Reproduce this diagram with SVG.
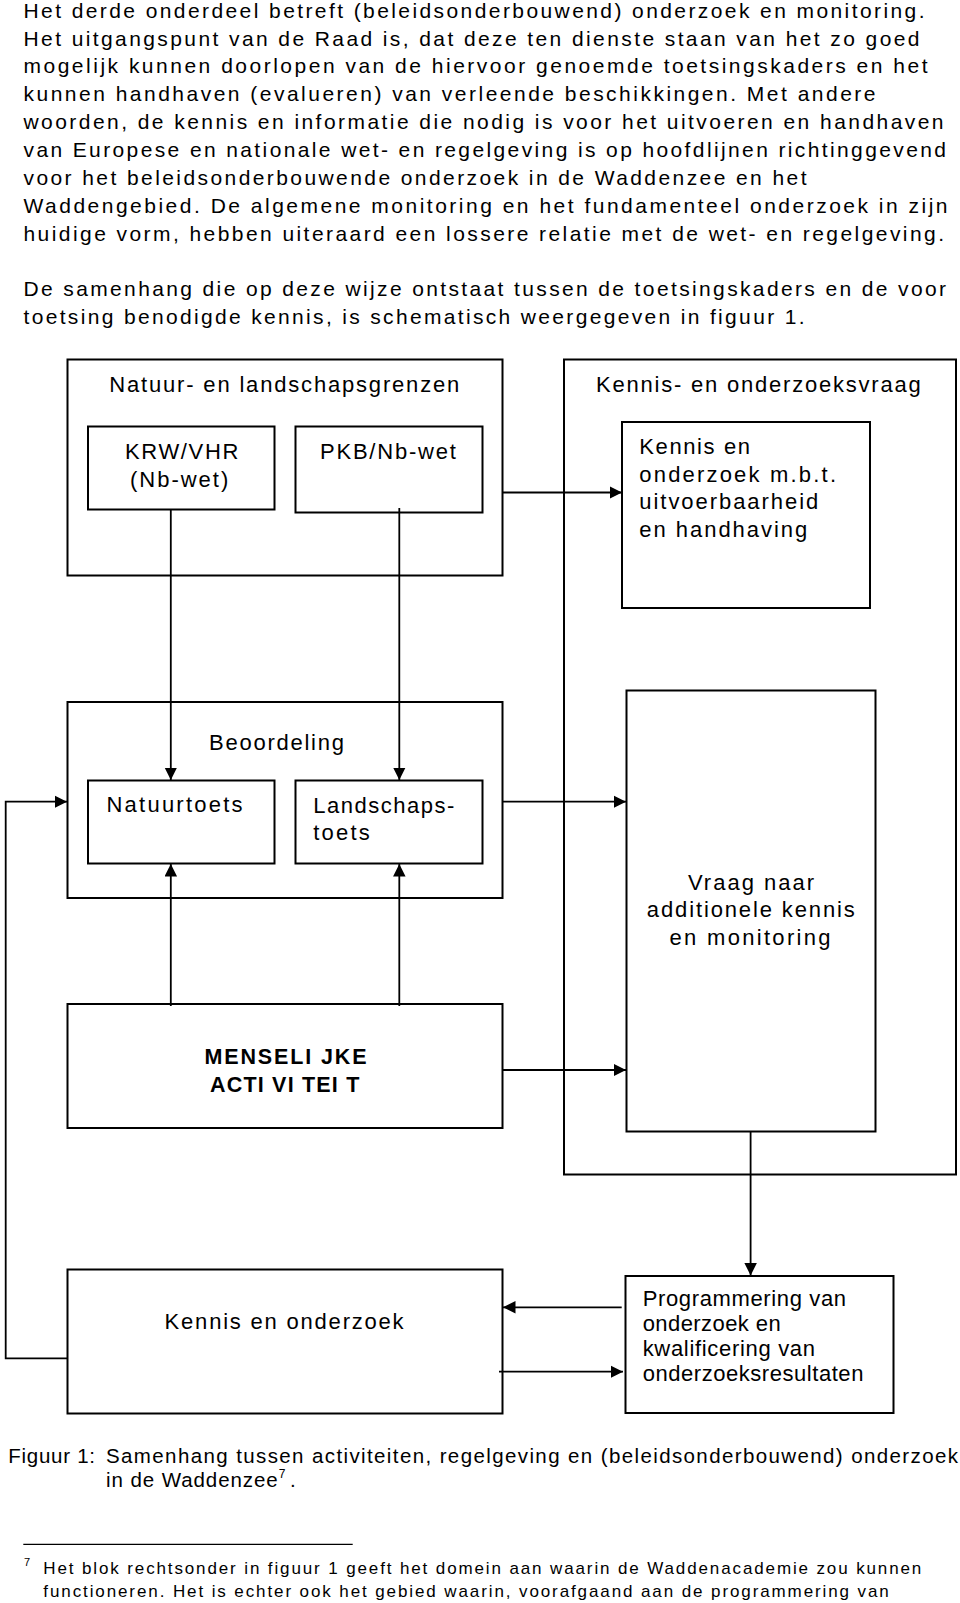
<svg xmlns="http://www.w3.org/2000/svg" width="960" height="1603" viewBox="0 0 960 1603">
<style>
text{font-family:"Liberation Sans",Arial,sans-serif;fill:#000}
.p{font-size:21px}
.d{font-size:22px}
.b{font-size:21.5px;font-weight:bold}
.c{font-size:20.5px}
.f{font-size:17px}
.box{fill:none;stroke:#000;stroke-width:2}
.con{fill:none;stroke:#000;stroke-width:1.8}
</style>
<defs>
<marker id="ah" markerUnits="userSpaceOnUse" markerWidth="13" markerHeight="13" refX="12.5" refY="6.25" orient="auto">
<path d="M0,0 L12.5,6.25 L0,12.5 z" fill="#000"/>
</marker>
</defs>
<rect width="960" height="1603" fill="#fff"/>

<g id="paragraph">
<text class="p" x="23.5" y="17.7" textLength="901" lengthAdjust="spacing">Het derde onderdeel betreft (beleidsonderbouwend) onderzoek en monitoring.</text>
<text class="p" x="23.5" y="45.5" textLength="896" lengthAdjust="spacing">Het uitgangspunt van de Raad is, dat deze ten dienste staan van het zo goed</text>
<text class="p" x="23.5" y="73.4" textLength="904" lengthAdjust="spacing">mogelijk kunnen doorlopen van de hiervoor genoemde toetsingskaders en het</text>
<text class="p" x="23.5" y="101.2" textLength="852" lengthAdjust="spacing">kunnen handhaven (evalueren) van verleende beschikkingen. Met andere</text>
<text class="p" x="23.5" y="129.1" textLength="920" lengthAdjust="spacing">woorden, de kennis en informatie die nodig is voor het uitvoeren en handhaven</text>
<text class="p" x="23.5" y="157" textLength="922.5" lengthAdjust="spacing">van Europese en nationale wet- en regelgeving is op hoofdlijnen richtinggevend</text>
<text class="p" x="23.5" y="184.8" textLength="783" lengthAdjust="spacing">voor het beleidsonderbouwende onderzoek in de Waddenzee en het</text>
<text class="p" x="23.5" y="212.6" textLength="924" lengthAdjust="spacing">Waddengebied. De algemene monitoring en het fundamenteel onderzoek in zijn</text>
<text class="p" x="23.5" y="240.5" textLength="920.5" lengthAdjust="spacing">huidige vorm, hebben uiteraard een lossere relatie met de wet- en regelgeving.</text>
<text class="p" x="23.5" y="296.2" textLength="922.5" lengthAdjust="spacing">De samenhang die op deze wijze ontstaat tussen de toetsingskaders en de voor</text>
<text class="p" x="23.5" y="324" textLength="781" lengthAdjust="spacing">toetsing benodigde kennis, is schematisch weergegeven in figuur 1.</text>
</g>

<g id="connectors">
<line class="con" x1="170.8" y1="509.5" x2="170.8" y2="780" marker-end="url(#ah)"/>
<line class="con" x1="399.3" y1="508" x2="399.3" y2="780" marker-end="url(#ah)"/>
<line class="con" x1="170.8" y1="1006" x2="170.8" y2="864" marker-end="url(#ah)"/>
<line class="con" x1="399.3" y1="1006" x2="399.3" y2="864" marker-end="url(#ah)"/>
<line class="con" x1="502.5" y1="492.5" x2="622" y2="492.5" marker-end="url(#ah)"/>
<line class="con" x1="502.5" y1="801.7" x2="626" y2="801.7" marker-end="url(#ah)"/>
<line class="con" x1="502.5" y1="1070" x2="626" y2="1070" marker-end="url(#ah)"/>
<line class="con" x1="750.6" y1="1131.5" x2="750.6" y2="1275.5" marker-end="url(#ah)"/>
<line class="con" x1="621.7" y1="1307.3" x2="503" y2="1307.3" marker-end="url(#ah)"/>
<line class="con" x1="499" y1="1371.7" x2="623" y2="1371.7" marker-end="url(#ah)"/>
<polyline class="con" points="67.5,1358.3 5.7,1358.3 5.7,801.7 67,801.7" marker-end="url(#ah)"/>
</g>

<g id="natuur-landschapsgrenzen">
<rect class="box" x="67.5" y="359.5" width="435" height="216"/>
<text class="d" x="109.3" y="392" textLength="350" lengthAdjust="spacing">Natuur- en landschapsgrenzen</text>
</g>
<g id="krw-vhr">
<rect class="box" x="88" y="426.5" width="186.5" height="83"/>
<text class="d" x="125" y="459" textLength="113.3" lengthAdjust="spacing">KRW/VHR</text>
<text class="d" x="130" y="486.7" textLength="98.3" lengthAdjust="spacing">(Nb-wet)</text>
</g>
<g id="pkb-nbwet">
<rect class="box" x="295.5" y="426.5" width="187" height="86"/>
<text class="d" x="320" y="458.5" textLength="135.8" lengthAdjust="spacing">PKB/Nb-wet</text>
</g>

<g id="kennis-onderzoeksvraag">
<rect class="box" x="564" y="359.5" width="392" height="815"/>
<text class="d" x="596" y="392" textLength="324.7" lengthAdjust="spacing">Kennis- en onderzoeksvraag</text>
</g>
<g id="kennis-mbt">
<rect class="box" x="622" y="422" width="248" height="186"/>
<text class="d" x="639.3" y="454.3" textLength="110.7" lengthAdjust="spacing">Kennis en</text>
<text class="d" x="639.3" y="481.7" textLength="196.7" lengthAdjust="spacing">onderzoek m.b.t.</text>
<text class="d" x="639.3" y="509.3" textLength="179" lengthAdjust="spacing">uitvoerbaarheid</text>
<text class="d" x="639.3" y="536.7" textLength="168" lengthAdjust="spacing">en handhaving</text>
</g>

<g id="beoordeling">
<rect class="box" x="67.5" y="702" width="435" height="196"/>
<text class="d" x="209" y="750" textLength="135" lengthAdjust="spacing">Beoordeling</text>
</g>
<g id="natuurtoets">
<rect class="box" x="88" y="780.5" width="186.5" height="83"/>
<text class="d" x="106.5" y="812.3" textLength="136" lengthAdjust="spacing">Natuurtoets</text>
</g>
<g id="landschapstoets">
<rect class="box" x="295.5" y="780.5" width="187" height="83"/>
<text class="d" x="313.3" y="813" textLength="141" lengthAdjust="spacing">Landschaps-</text>
<text class="d" x="313.3" y="840" textLength="56.5" lengthAdjust="spacing">toets</text>
</g>

<g id="vraag">
<rect class="box" x="626.5" y="690.5" width="249" height="441"/>
<text class="d" x="688" y="890" textLength="126" lengthAdjust="spacing">Vraag naar</text>
<text class="d" x="646.8" y="917.3" textLength="208" lengthAdjust="spacing">additionele kennis</text>
<text class="d" x="669.5" y="945" textLength="161" lengthAdjust="spacing">en monitoring</text>
</g>

<g id="menselijke-activiteit">
<rect class="box" x="67.5" y="1004" width="435" height="124"/>
<text class="b" x="204.5" y="1064.3" textLength="162" lengthAdjust="spacing">MENSELI JKE</text>
<text class="b" x="210" y="1091.7" textLength="149.3" lengthAdjust="spacing">ACTI VI TEI T</text>
</g>

<g id="kennis-onderzoek">
<rect class="box" x="67.5" y="1269.5" width="435" height="144"/>
<text class="d" x="164.6" y="1329.3" textLength="239" lengthAdjust="spacing">Kennis en onderzoek</text>
</g>

<g id="programmering">
<rect class="box" x="625.5" y="1276" width="268" height="137"/>
<text class="d" x="642.7" y="1306" textLength="203.3" lengthAdjust="spacing">Programmering van</text>
<text class="d" x="642.7" y="1331.2" textLength="138" lengthAdjust="spacing">onderzoek en</text>
<text class="d" x="642.7" y="1356" textLength="172.3" lengthAdjust="spacing">kwalificering van</text>
<text class="d" x="642.7" y="1380.7" textLength="220.7" lengthAdjust="spacing">onderzoeksresultaten</text>
</g>

<g id="caption">
<text class="c" x="8.3" y="1462.5" textLength="86.7" lengthAdjust="spacing">Figuur 1:</text>
<text class="c" x="106" y="1462.5" textLength="852" lengthAdjust="spacing">Samenhang tussen activiteiten, regelgeving en (beleidsonderbouwend) onderzoek</text>
<text class="c" x="106" y="1486.7" textLength="171.7" lengthAdjust="spacing">in de Waddenzee</text>
<text x="278.7" y="1477.5" style="font-size:12px">7</text>
<text class="c" x="290" y="1486.7">.</text>
</g>

<g id="footnote">
<line x1="23.3" y1="1544.3" x2="352.7" y2="1544.3" stroke="#000" stroke-width="1.3"/>
<text x="24" y="1566" style="font-size:11px">7</text>
<text class="f" x="43.3" y="1574" textLength="878" lengthAdjust="spacing">Het blok rechtsonder in figuur 1 geeft het domein aan waarin de Waddenacademie zou kunnen</text>
<text class="f" x="43.3" y="1596.7" textLength="845.5" lengthAdjust="spacing">functioneren. Het is echter ook het gebied waarin, voorafgaand aan de programmering van</text>
</g>
</svg>
